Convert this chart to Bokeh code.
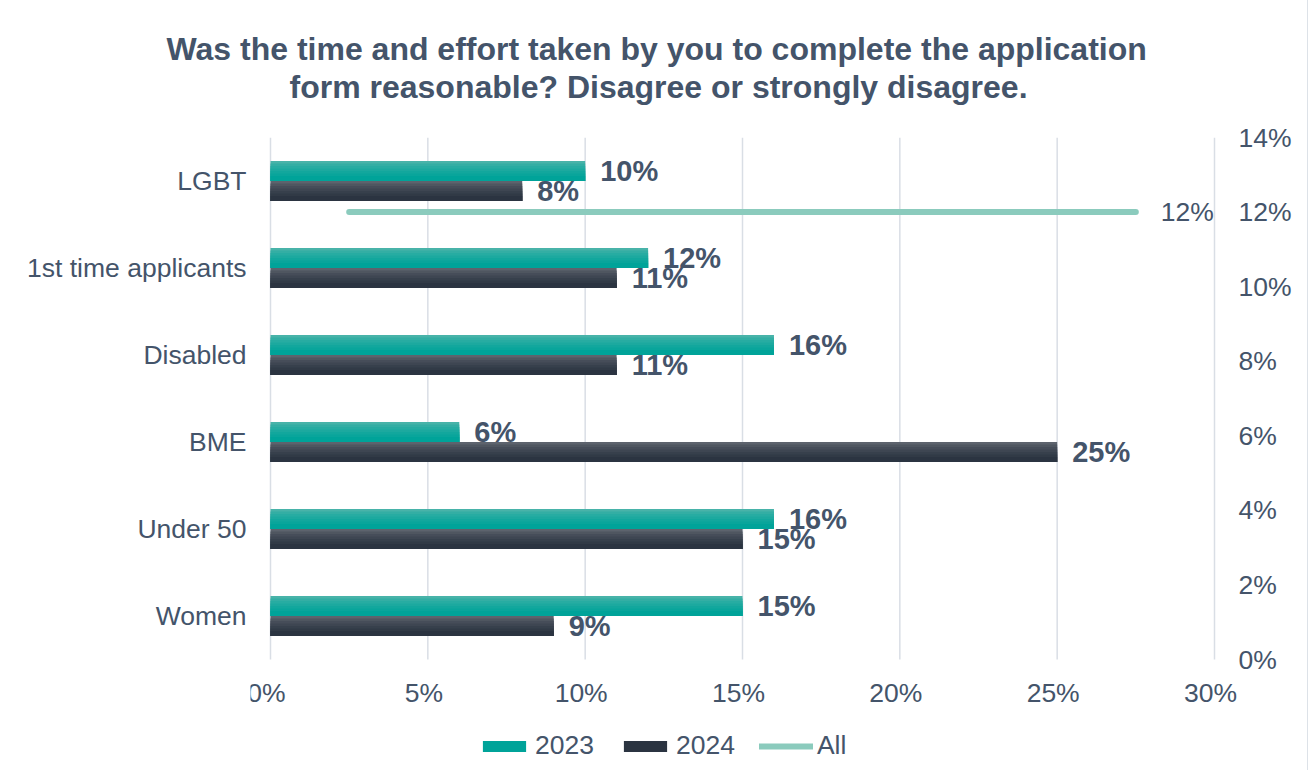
from bokeh.plotting import figure
from bokeh.models import (Range1d, LinearAxis, PrintfTickFormatter, FixedTicker,
                          Legend, LegendItem, ColumnDataSource, Title)
from bokeh.core.properties import value
from bokeh.embed import file_html
from bokeh.resources import INLINE

categories = ["LGBT", "1st time applicants", "Disabled", "BME", "Under 50", "Women"]
vals_2023 = [10, 12, 16, 6, 16, 15]
vals_2024 = [8, 11, 11, 25, 15, 9]
vals_all = [12, 12, 12, 12, 12, 12]
x_ticks = [0, 5, 10, 15, 20, 25, 30]
right_ticks = [0, 2, 4, 6, 8, 10, 12, 14]
title_lines = ["Was the time and effort taken by you to complete the application",
               "form reasonable? Disagree or strongly disagree."]

TEXT = "#44546a"
GRID = "#d9dee5"
FONT = "Liberation Sans"

N = len(categories)
ypos = [N - 0.5 - i for i in range(N)]  # category centres, first at top

PLOT_H = 522          # px height of the category area
EXTRA = 111           # px below it kept for x labels and legend (inside the frame)
PX = N / PLOT_H       # category units per pixel
R_MAX = right_ticks[-1]
PLOT_W = 944          # px width of the value area
LPAD, RPAD = 20, 30   # px of frame kept left/right of it so end labels are not clipped
X_MAX = x_ticks[-1]
XU = X_MAX / PLOT_W
CU = N / PLOT_W

p = figure(frame_width=PLOT_W + LPAD + RPAD, frame_height=PLOT_H + EXTRA, output_backend="svg",
           toolbar_location=None, title=None,
           y_range=Range1d(-EXTRA * PX, N), x_range=Range1d(-LPAD * XU, X_MAX + RPAD * XU),
           min_border_left=270 - LPAD, min_border_right=93 - RPAD, min_border_top=137,
           min_border_bottom=0)
p.extra_y_ranges = {"right": Range1d(-EXTRA * R_MAX / PLOT_H, R_MAX)}
p.extra_x_ranges = {"cat": Range1d(-LPAD * CU, N + RPAD * CU)}
p.outline_line_color = None
p.background_fill_color = "white"
p.border_fill_color = "white"
p.styles = {"box-shadow": "1px 0 0 #dde2e8"}

# title: spacer nearest the frame, then line 2, then line 1
p.add_layout(Title(text="x", text_color="white", text_font_size="22px", standoff=6), "above")
for txt, off in [(title_lines[1], 19 + LPAD), (title_lines[0], -104 + LPAD)]:
    p.add_layout(Title(text=txt, align="left", offset=off, text_font=FONT,
                       text_font_size="32px", text_font_style="bold", text_color=TEXT,
                       standoff=0), "above")

# axes
p.xaxis.visible = False
p.xgrid.grid_line_color = None
p.ygrid.grid_line_color = None
p.yaxis.ticker = FixedTicker(ticks=ypos)
p.yaxis.major_label_overrides = {y: c for y, c in zip(ypos, categories)}
ax = p.yaxis[0]
ax.axis_line_color = None
ax.major_tick_line_color = None
ax.minor_tick_line_color = None
ax.major_label_text_font = FONT
ax.major_label_text_font_size = "26.5px"
ax.major_label_text_color = TEXT
ax.major_label_standoff = 18 - LPAD

rax = LinearAxis(y_range_name="right", ticker=FixedTicker(ticks=right_ticks),
                 formatter=PrintfTickFormatter(format="%d%%"))
rax.axis_line_color = None
rax.major_tick_line_color = None
rax.minor_tick_line_color = None
rax.major_label_text_font = FONT
rax.major_label_text_font_size = "26.5px"
rax.major_label_text_color = TEXT
rax.major_label_standoff = 18 - RPAD
p.add_layout(rax, "right")

# vertical gridlines over the category area and x tick labels below it
p.segment(x0=x_ticks, y0=[0] * len(x_ticks), x1=x_ticks, y1=[N] * len(x_ticks),
          line_color=GRID, line_width=1.5)
p.text(x=x_ticks, y=[-33 * PX] * len(x_ticks), text=[f"{t}%" for t in x_ticks],
       text_font=value(FONT), text_font_size="26.5px", text_color=TEXT,
       text_align="center", text_baseline="middle", x_offset=-4)

BAR_H = 20 * PX
OFF = BAR_H / 2

src = ColumnDataSource(dict(y=ypos, v23=vals_2023, v24=vals_2024,
                            y23=[y + OFF for y in ypos], y24=[y - OFF for y in ypos],
                            l23=[f"{v}%" for v in vals_2023], l24=[f"{v}%" for v in vals_2024]))


def gradient_bars(field, center, top_col, bot_col, n=7):
    """Vertical gradient: successively shorter bars anchored at the bar bottom."""
    def hx(c):
        return [int(c[i:i + 2], 16) for i in (1, 3, 5)]
    t, b = hx(top_col), hx(bot_col)
    last = None
    bottom = center - BAR_H / 2
    for k in range(n):
        f = (k / (n - 1)) ** 0.7
        col = "#%02x%02x%02x" % tuple(round(t[j] + (b[j] - t[j]) * f) for j in range(3))
        h = BAR_H * (1 - k / (n + 1))
        s = ColumnDataSource(dict(y=[y + bottom + h / 2 for y in ypos], v=src.data[field]))
        last = p.hbar(y="y", right="v", left=0, height=h, source=s,
                      fill_color=col, line_color=None)
    return last


r23 = gradient_bars("v23", OFF, "#48b3a9", "#00a399")
r24 = gradient_bars("v24", -OFF, "#5d636d", "#2b3441")

lbl = dict(text_font=value(FONT), text_font_size="29px", text_font_style="bold",
           text_color=TEXT, text_baseline="middle", text_align="left", x_offset=15)
p.text(x="v23", y="y23", text="l23", source=src, **lbl)
p.text(x="v24", y="y24", text="l24", source=src, **lbl)

# All line on secondary axes
xs_all = [i + 0.5 for i in range(len(vals_all))]
rall = p.line(xs_all, vals_all, x_range_name="cat", y_range_name="right",
              line_color="#8bcbbd", line_width=6, line_cap="round")
p.text(x=[xs_all[-1]], y=[vals_all[-1]], text=[f"{vals_all[-1]}%"], x_range_name="cat",
       y_range_name="right", text_font=value(FONT), text_font_size="26.5px", text_color=TEXT,
       text_baseline="middle", text_align="left", x_offset=25)

legend = Legend(items=[LegendItem(label="2023", renderers=[r23]),
                       LegendItem(label="2024", renderers=[r24]),
                       LegendItem(label="All", renderers=[rall])],
                orientation="horizontal", location=(207 + LPAD, 9))
legend.border_line_color = None
legend.background_fill_alpha = 0
legend.label_text_font = FONT
legend.label_text_font_size = "26.5px"
legend.label_text_color = TEXT
legend.glyph_width = 54
legend.glyph_height = 14
legend.label_standoff = 4
legend.spacing = 24
legend.padding = 10
legend.margin = 0
p.add_layout(legend, "center")

open("out.html", "w").write(file_html(p, INLINE))
